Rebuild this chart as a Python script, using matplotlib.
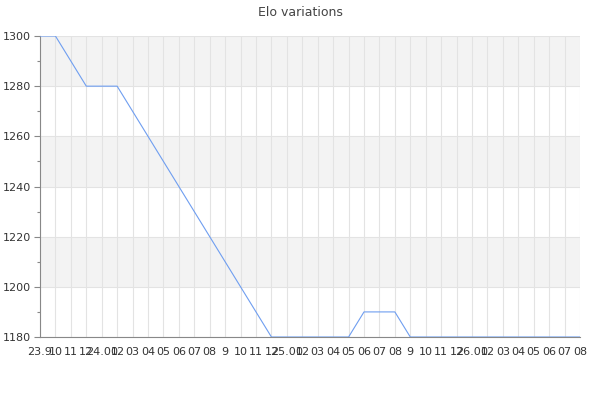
import matplotlib.pyplot as plt
import numpy as np

month_labels = ['23.9', '10', '11', '12',
                '24.01', '02', '03', '04', '05', '06', '07', '08', '9', '10', '11', '12',
                '25.01', '02', '03', '04', '05', '06', '07', '08', '9', '10', '11', '12',
                '26.01', '02', '03', '04', '05', '06', '07', '08']
point_months = [0, 1, 3, 5, 15, 20, 21, 23, 24, 35]
elo = [1300, 1300, 1280, 1280, 1180, 1180, 1190, 1190, 1180, 1180]

fig = plt.figure(figsize=(6, 4), dpi=100)
ax = fig.add_axes([40/600, 63/400, 540/600, 301/400])

ax.set_xlim(0, len(month_labels) - 1)
ax.set_ylim(1180, 1300)

# alternating bands
for y0 in range(1180, 1300, 20):
    if ((y0 - 1180) // 20) % 2 == 1:
        ax.axhspan(y0, y0 + 20, color='#f3f3f3', zorder=0, lw=0)

ax.set_xticks(np.arange(len(month_labels)))
ax.set_xticklabels(month_labels)
ax.set_yticks(range(1180, 1301, 20))
ax.set_yticks(range(1190, 1300, 20), minor=True)
ax.grid(True, which='major', color='#e3e3e3', lw=0.8, zorder=1)

ax.plot(point_months, elo, color='#6f9ef0', lw=0.8, zorder=3)

for s in ['top', 'right']:
    ax.spines[s].set_visible(False)
for s in ['left', 'bottom']:
    ax.spines[s].set_color('#888888')
    ax.spines[s].set_linewidth(0.8)

ax.tick_params(axis='x', length=0, pad=7, labelsize=8, labelcolor='#333333')
ax.tick_params(axis='y', which='major', length=4.5, width=0.8, color='#888888', labelsize=8, labelcolor='#333333', pad=2)
ax.tick_params(axis='y', which='minor', length=2.2, width=0.8, color='#888888')

fig.suptitle('Elo variations', y=0.985, fontsize=9, color='#444444')

fig.savefig('out.png', dpi=100)
